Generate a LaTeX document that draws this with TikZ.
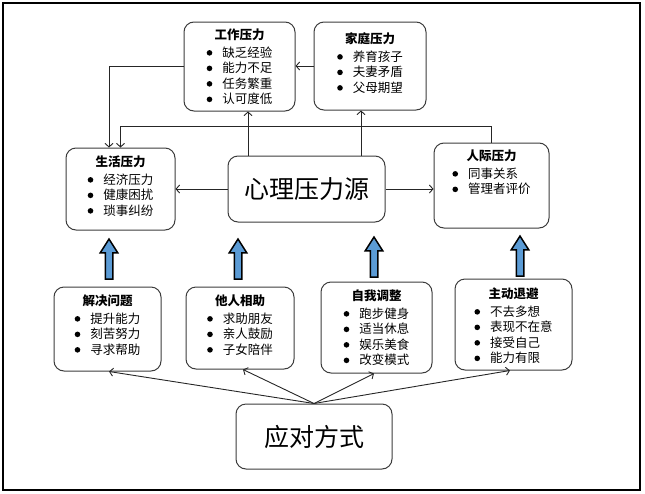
\documentclass[tikz,border=0pt]{standalone}
\usepackage{fontspec}
\setmainfont{Noto Sans CJK SC}
\usetikzlibrary{arrows.meta,calc,positioning,shapes.arrows}

\definecolor{arrowblue}{RGB}{91,155,213}
\definecolor{boxline}{RGB}{60,60,60}

\newcommand{\listdot}{\tikz[baseline=-4.2pt]\fill[black] (0pt,0pt) circle (2.8pt);}
\newcommand{\dotitem}[1]{\listdot & #1 \\}
\newcommand{\stresslist}[2]{%
  \begin{tabular}{@{}l@{\hspace{10pt}}l@{}}
    \multicolumn{2}{c}{\textbf{#1}} \\[2pt]
    #2
  \end{tabular}}

\tikzset{
  stressbox/.style={draw=boxline, line width=1pt, rounded corners=10pt},
  listtext/.style={inner sep=0pt, font=\fontsize{12.5}{15.5}\selectfont},
  bigtext/.style={font=\fontsize{25}{30}\selectfont},
  link/.style={-{Straight Barb[length=3.5pt,width=8pt]}, draw=black!85, line width=0.9pt},
  uparrow/.style={single arrow, draw=black, line width=1.5pt, fill=arrowblue,
    minimum height=40pt, minimum width=16pt, inner sep=3pt,
    single arrow head extend=5pt, single arrow tip angle=65, rotate=90}
}

\begin{document}
\begin{tikzpicture}[x=1pt, y=-1pt]

  \useasboundingbox (0,0) rectangle (645,493);
  \draw [line width=2pt] (3,3) rectangle (640,490);

  % upper row: sources of stress
  \node [stressbox, minimum width=111pt, minimum height=89pt] (work) at (239.5,66.5) {};
  \node [stressbox, minimum width=112pt, minimum height=88pt] (family) at (370,66) {};
  \node [stressbox, minimum width=109pt, minimum height=82pt] (life) at (120.5,189) {};
  \node [stressbox, minimum width=115pt, minimum height=85pt] (social) at (491.5,185.5) {};
  \node [stressbox, bigtext, minimum width=157pt, minimum height=66pt] (source) at (306.5,189) {心理压力源};

  \node [listtext, below=7pt of work.north] (worklist)
    {\stresslist{工作压力}{\dotitem{缺乏经验}\dotitem{能力不足}\dotitem{任务繁重}\dotitem{认可度低}}};
  \node [listtext, below=11pt of family.north] (familylist)
    {\stresslist{家庭压力}{\dotitem{养育孩子}\dotitem{夫妻矛盾}\dotitem{父母期望}}};
  \node [listtext, below=8pt of life.north] (lifelist)
    {\stresslist{生活压力}{\dotitem{经济压力}\dotitem{健康困扰}\dotitem{琐事纠纷}}};
  \node [listtext, below=7pt of social.north] (sociallist)
    {\stresslist{人际压力}{\dotitem{同事关系}\dotitem{管理者评价}}};

  \draw [link] (family.west) -- (family.west -| work.east);
  \draw [link] (work.west) -| ([xshift=-11.5pt]life.north);
  \draw [link] (social.north) -- ++(0,-16) -| (life.north);
  \draw [link] ([xshift=-58.5pt]source.north) -- ([xshift=-58.5pt]source.north |- work.south);
  \draw [link] ([xshift=54.5pt]source.north) -- ([xshift=54.5pt]source.north |- family.south);
  \draw [link] (source.west) -- (life.east);
  \draw [link] (source.east) -- (source.east -| social.west);

  % lower row: ways of coping
  \node [stressbox, minimum width=107pt, minimum height=84pt] (solve) at (107.5,329) {};
  \node [stressbox, minimum width=108pt, minimum height=82pt] (help) at (240,328) {};
  \node [stressbox, minimum width=111pt, minimum height=91pt] (self) at (376.5,327.5) {};
  \node [stressbox, minimum width=117pt, minimum height=91pt] (avoid) at (513.5,324.5) {};
  \node [stressbox, bigtext, minimum width=156pt, minimum height=65pt] (cope) at (314,436.5) {应对方式};

  \node [listtext, below=8pt of solve.north] (solvelist)
    {\stresslist{解决问题}{\dotitem{提升能力}\dotitem{刻苦努力}\dotitem{寻求帮助}}};
  \node [listtext, below=8pt of help.north] (helplist)
    {\stresslist{他人相助}{\dotitem{求助朋友}\dotitem{亲人鼓励}\dotitem{子女陪伴}}};
  \node [listtext, below=8pt of self.north] (selflist)
    {\stresslist{自我调整}{\dotitem{跑步健身}\dotitem{适当休息}\dotitem{娱乐美食}\dotitem{改变模式}}};
  \node [listtext, below=9pt of avoid.north] (avoidlist)
    {\stresslist{主动退避}{\dotitem{不去多想}\dotitem{表现不在意}\dotitem{接受自己}\dotitem{能力有限}}};

  \node [uparrow] (solveup) at (109,262) {};
  \node [uparrow] (helpup) at (238,262) {};
  \node [uparrow] (selfup) at (374,260) {};
  \node [uparrow] (avoidup) at (520,259) {};

  \draw [link] (cope.north) -- ([xshift=1.5pt]solve.south);
  \draw [link] (cope.north) -- ([xshift=3pt]help.south);
  \draw [link] (cope.north) -- ([xshift=-2.5pt]self.south);
  \draw [link] (cope.north) -- ([xshift=-3.5pt]avoid.south);

\end{tikzpicture}
\end{document}
